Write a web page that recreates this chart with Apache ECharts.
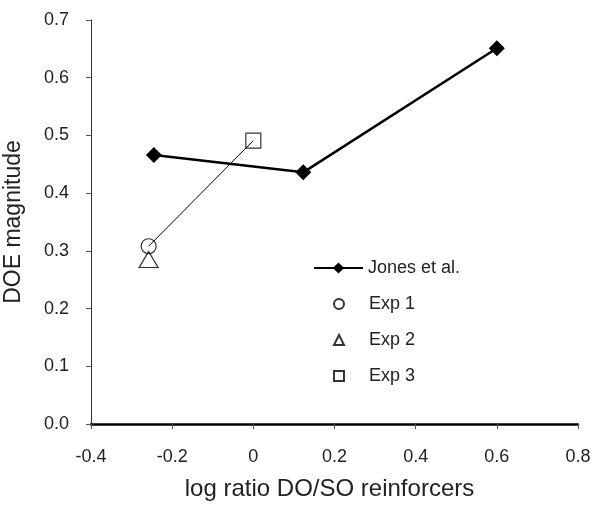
<!DOCTYPE html>
<html>
<head>
<meta charset="utf-8">
<script src="https://cdn.jsdelivr.net/npm/echarts@6/dist/echarts.min.js"></script>
<style>html,body{margin:0;padding:0;background:#fff;}#c{width:600px;height:512px;}</style>
</head>
<body>
<div id="c"></div>
<script>
const jonesX = [-0.245, 0.123, 0.6];
const jonesY = [0.466, 0.436, 0.651];
const exp1 = [-0.258, 0.308];
const exp2 = [-0.258, 0.285];
const exp3 = [0.0, 0.491];
const xTicks = [-0.4, -0.2, 0, 0.2, 0.4, 0.6, 0.8];
const yTicks = [0.0, 0.1, 0.2, 0.3, 0.4, 0.5, 0.6, 0.7];
const legendNames = ['Jones et al.', 'Exp 1', 'Exp 2', 'Exp 3'];

const FONT = 'Liberation Sans, Arial, sans-serif';
const chart = echarts.init(document.getElementById('c'), null, {renderer: 'canvas'});
const hollow = {color: 'rgba(255,255,255,0)', borderColor: '#000', borderWidth: 1.2};
const legendText = {fontFamily: FONT, fontSize: 18, color: '#222'};
chart.setOption({
  animation: false,
  backgroundColor: '#fff',
  grid: {left: 91, right: 22, top: 20, bottom: 88, containLabel: false, outerBoundsMode: 'none'},
  xAxis: {
    type: 'value', min: xTicks[0], max: xTicks[xTicks.length - 1], interval: 0.2,
    name: 'log ratio DO/SO reinforcers', nameLocation: 'middle', nameGap: 53,
    nameTextStyle: {fontFamily: FONT, fontSize: 24, color: '#222', padding: [0, 10, 0, 0]},
    axisLine: {show: true, onZero: false, lineStyle: {color: '#000', width: 2.5}},
    axisTick: {show: true, inside: false, length: 5, lineStyle: {color: '#555', width: 1}},
    axisLabel: {fontFamily: FONT, fontSize: 18, color: '#222', margin: 24,
      formatter: v => String(+v.toFixed(1))},
    splitLine: {show: false}
  },
  yAxis: {
    type: 'value', min: yTicks[0], max: yTicks[yTicks.length - 1], interval: 0.1,
    name: 'DOE magnitude', nameLocation: 'middle', nameGap: 66,
    nameTextStyle: {fontFamily: FONT, fontSize: 23, color: '#222'},
    axisLine: {show: true, onZero: false, lineStyle: {color: '#333', width: 1}},
    axisTick: {show: true, inside: false, length: 5, lineStyle: {color: '#555', width: 1}},
    axisLabel: {fontFamily: FONT, fontSize: 18, color: '#222', margin: 22,
      formatter: v => v.toFixed(1)},
    splitLine: {show: false}
  },
  legend: [
    {
      orient: 'vertical', left: 308, top: 254,
      itemWidth: 49, itemHeight: 14,
      textStyle: legendText,
      data: [legendNames[0]]
    },
    {
      orient: 'vertical', left: 328, top: 290, itemGap: 18,
      itemWidth: 10, itemHeight: 10,
      textStyle: Object.assign({}, legendText, {padding: [0, 0, 0, 20]}),
      data: legendNames.slice(1)
    }
  ],
  series: [
    {
      name: 'Exp link', type: 'line', data: [exp1, exp3], symbol: 'none',
      lineStyle: {color: '#000', width: 1}, z: 3, silent: true
    },
    {
      name: legendNames[0], type: 'line',
      data: jonesX.map((x, i) => [x, jonesY[i]]),
      symbol: 'diamond', symbolSize: 16,
      itemStyle: {color: '#000'}, lineStyle: {color: '#000', width: 2.5}, z: 2
    },
    {name: legendNames[1], type: 'scatter', data: [exp1], symbol: 'circle', symbolSize: 15, itemStyle: hollow, z: 4},
    {name: legendNames[2], type: 'scatter', data: [exp2], symbol: 'triangle', symbolSize: [19, 16], itemStyle: hollow, z: 4},
    {name: legendNames[3], type: 'scatter', data: [exp3], symbol: 'rect', symbolSize: 15, itemStyle: hollow, z: 4}
  ]
});
</script>
</body>
</html>
